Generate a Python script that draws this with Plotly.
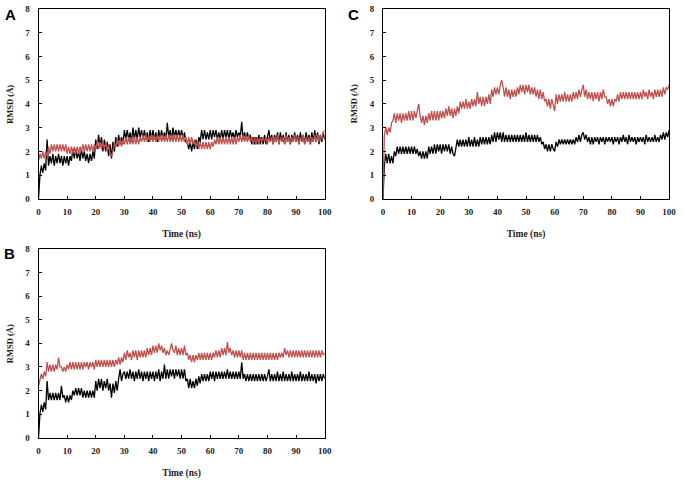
import plotly.graph_objects as go

# ---------------- data (RMSD in Å, read every 0.5 ns) ----------------
time_step_ns = 0.5
x_ticks = [0, 10, 20, 30, 40, 50, 60, 70, 80, 90, 100]
y_ticks = [0, 1, 2, 3, 4, 5, 6, 7, 8]

a_black = [
    0.0, 1.0, 1.4, 1.1, 1.5, 1.2, 2.5, 1.4, 1.8, 1.5, 1.9, 1.4, 1.8, 1.5, 1.9, 1.5, 1.8, 1.4, 1.8, 1.5,
    1.8, 1.4, 1.8, 1.6, 2.1, 1.7, 2.1, 1.7, 2.0, 1.6, 2.1, 1.7, 2.0, 1.6, 1.9, 1.5, 1.9, 1.6, 2.0, 1.7,
    2.5, 2.1, 2.7, 2.2, 2.6, 2.0, 2.5, 2.0, 2.4, 1.8, 2.3, 1.7, 2.4, 2.0, 2.6, 2.2, 2.7, 2.3, 2.6, 2.3,
    2.9, 2.5, 2.9, 2.5, 2.8, 2.4, 3.0, 2.5, 2.9, 2.5, 3.0, 2.6, 2.9, 2.5, 2.9, 2.5, 2.8, 2.4, 2.9, 2.5,
    2.9, 2.5, 2.8, 2.4, 2.9, 2.5, 2.9, 2.5, 2.8, 2.5, 3.2, 2.6, 2.9, 2.5, 3.0, 2.6, 2.9, 2.6, 2.9, 2.6,
    2.9, 2.5, 2.8, 2.4, 2.4, 2.1, 2.4, 2.0, 2.4, 2.1, 2.5, 2.1, 2.6, 2.4, 2.9, 2.5, 2.9, 2.5, 2.8, 2.5,
    2.9, 2.5, 2.9, 2.6, 2.9, 2.5, 2.8, 2.5, 2.9, 2.5, 2.9, 2.6, 2.9, 2.5, 2.9, 2.6, 2.8, 2.5, 2.9, 2.6,
    2.8, 2.6, 3.25, 2.5, 2.8, 2.5, 2.8, 2.5, 2.7, 2.3, 2.6, 2.3, 2.6, 2.3, 2.7, 2.3, 2.6, 2.3, 2.7, 2.3,
    2.6, 2.9, 2.4, 2.7, 2.3, 2.7, 2.4, 2.8, 2.3, 2.8, 2.4, 2.7, 2.3, 2.8, 2.4, 2.7, 2.3, 2.7, 2.4, 2.8,
    2.4, 2.7, 2.3, 2.8, 2.4, 2.7, 2.3, 2.8, 2.4, 2.7, 2.3, 2.8, 2.4, 2.9, 2.4, 2.8, 2.3, 2.7, 2.4, 2.8,
    2.5,
]
a_red = [
    1.6, 1.9, 1.7, 2.0, 1.7, 2.0, 1.8, 2.2, 1.9, 2.3, 2.0, 2.3, 2.0, 2.3, 2.0, 2.3, 2.0, 2.3, 2.0, 2.3,
    1.9, 2.2, 1.9, 2.2, 1.9, 2.2, 1.9, 2.2, 1.9, 2.2, 2.0, 2.3, 2.0, 2.3, 2.0, 2.3, 2.0, 2.3, 2.0, 2.3,
    2.1, 2.4, 2.1, 2.4, 2.1, 2.4, 2.1, 2.4, 2.0, 2.3, 1.9, 1.8, 2.0, 2.3, 2.2, 2.5, 2.2, 2.5, 2.2, 2.5,
    2.3, 2.6, 2.3, 2.6, 2.3, 2.6, 2.3, 2.6, 2.3, 2.6, 2.3, 2.6, 2.4, 2.7, 2.4, 2.7, 2.4, 2.7, 2.4, 2.7,
    2.4, 2.7, 2.4, 2.7, 2.4, 2.7, 2.4, 2.7, 2.4, 2.7, 2.4, 2.7, 2.4, 2.7, 2.4, 2.7, 2.4, 2.7, 2.4, 2.7,
    2.4, 2.7, 2.4, 2.6, 2.3, 2.6, 2.3, 2.6, 2.3, 2.5, 2.2, 2.4, 2.1, 2.4, 2.1, 2.4, 2.1, 2.4, 2.1, 2.4,
    2.1, 2.4, 2.2, 2.5, 2.3, 2.6, 2.3, 2.6, 2.3, 2.6, 2.3, 2.6, 2.3, 2.6, 2.3, 2.6, 2.3, 2.6, 2.3, 2.6,
    2.4, 2.7, 2.4, 2.7, 2.4, 2.7, 2.4, 2.7, 2.4, 2.6, 2.3, 2.6, 2.3, 2.6, 2.3, 2.6, 2.4, 2.6, 2.4, 2.6,
    2.3, 2.6, 2.4, 2.6, 2.3, 2.6, 2.4, 2.7, 2.3, 2.6, 2.4, 2.6, 2.3, 2.7, 2.4, 2.6, 2.3, 2.6, 2.4, 2.7,
    2.4, 2.6, 2.3, 2.6, 2.4, 2.7, 2.3, 2.6, 2.4, 2.6, 2.3, 2.6, 2.4, 2.7, 2.4, 2.7, 2.4, 2.7, 2.5, 2.8,
    2.9,
]
b_black = [
    0.0, 1.0, 1.4, 1.1, 1.5, 1.2, 2.4, 1.6, 1.9, 1.6, 1.9, 1.6, 1.9, 1.6, 1.9, 1.6, 2.2, 1.7, 1.8, 1.5,
    1.8, 1.5, 1.8, 1.6, 2.0, 1.8, 2.1, 1.8, 2.1, 1.8, 2.1, 1.7, 2.0, 1.7, 2.0, 1.7, 2.0, 1.7, 2.0, 1.7,
    2.4, 2.0, 2.5, 2.1, 2.5, 2.0, 2.4, 2.1, 2.5, 2.0, 2.3, 1.7, 2.3, 1.9, 2.4, 2.0, 2.5, 2.9, 2.4, 2.7,
    2.8, 2.5, 2.8, 2.5, 2.9, 2.5, 2.8, 2.4, 2.8, 2.5, 2.9, 2.5, 2.8, 2.4, 2.8, 2.5, 2.8, 2.4, 2.8, 2.5,
    2.8, 2.4, 2.8, 2.5, 2.9, 2.4, 2.8, 2.5, 3.1, 2.5, 2.9, 2.5, 2.9, 2.6, 2.9, 2.5, 2.9, 2.6, 2.9, 2.5,
    2.9, 2.5, 2.9, 2.4, 2.5, 2.1, 2.5, 2.1, 2.4, 2.1, 2.5, 2.2, 2.6, 2.3, 2.7, 2.4, 2.7, 2.4, 2.7, 2.4,
    2.8, 2.5, 2.8, 2.4, 2.8, 2.5, 2.8, 2.5, 2.8, 2.5, 2.8, 2.5, 2.9, 2.5, 2.8, 2.5, 2.8, 2.5, 2.8, 2.5,
    2.8, 2.5, 3.2, 2.5, 2.7, 2.4, 2.7, 2.4, 2.7, 2.4, 2.7, 2.4, 2.7, 2.4, 2.7, 2.4, 2.7, 2.4, 2.7, 2.4,
    2.6, 2.9, 2.4, 2.7, 2.4, 2.7, 2.4, 2.8, 2.4, 2.7, 2.4, 2.8, 2.4, 2.7, 2.4, 2.7, 2.4, 2.8, 2.4, 2.7,
    2.4, 2.7, 2.4, 2.8, 2.4, 2.7, 2.4, 2.7, 2.4, 2.8, 2.4, 2.7, 2.4, 2.7, 2.3, 2.7, 2.4, 2.7, 2.4, 2.7,
    2.5,
]
b_red = [
    2.2, 2.4, 2.7, 2.5, 2.8, 2.6, 3.2, 2.8, 3.1, 2.8, 3.1, 2.8, 3.1, 2.9, 3.4, 3.0, 3.0, 2.8, 3.0, 2.8,
    3.1, 2.9, 3.2, 2.9, 3.2, 2.9, 3.2, 2.9, 3.2, 2.9, 3.2, 2.9, 3.2, 3.0, 3.2, 2.9, 3.2, 3.0, 3.2, 2.9,
    3.3, 3.0, 3.3, 3.0, 3.3, 3.0, 3.3, 3.0, 3.3, 3.0, 3.3, 3.0, 3.3, 3.0, 3.3, 3.1, 3.4, 3.1, 3.4, 3.2,
    3.6, 3.3, 3.7, 3.4, 3.6, 3.3, 3.7, 3.4, 3.7, 3.3, 3.7, 3.4, 3.7, 3.4, 3.7, 3.4, 3.8, 3.5, 3.8, 3.5,
    3.9, 3.6, 3.9, 3.6, 4.0, 3.7, 3.9, 3.6, 3.8, 3.5, 3.7, 3.5, 3.8, 4.0, 3.7, 3.6, 3.9, 3.5, 3.8, 3.5,
    3.8, 3.5, 3.9, 3.5, 3.6, 3.3, 3.5, 3.2, 3.5, 3.2, 3.5, 3.3, 3.6, 3.3, 3.6, 3.3, 3.6, 3.3, 3.6, 3.3,
    3.6, 3.3, 3.6, 3.4, 3.7, 3.4, 3.7, 3.4, 3.8, 3.5, 3.8, 3.5, 4.05, 3.6, 3.8, 3.5, 3.7, 3.4, 3.7, 3.4,
    3.7, 3.4, 3.7, 3.3, 3.6, 3.3, 3.6, 3.3, 3.6, 3.3, 3.6, 3.3, 3.6, 3.3, 3.6, 3.3, 3.6, 3.3, 3.6, 3.3,
    3.6, 3.3, 3.6, 3.3, 3.6, 3.3, 3.6, 3.3, 3.6, 3.4, 3.6, 3.4, 3.8, 3.5, 3.7, 3.4, 3.7, 3.4, 3.7, 3.4,
    3.7, 3.4, 3.7, 3.4, 3.7, 3.4, 3.7, 3.4, 3.7, 3.4, 3.7, 3.4, 3.7, 3.4, 3.7, 3.4, 3.7, 3.4, 3.7, 3.5,
    3.6,
]
c_black = [
    0.0, 1.4, 1.9, 1.5, 1.9, 1.5, 1.8, 1.5, 2.0, 1.8, 2.2, 1.9, 2.2, 1.9, 2.2, 1.9, 2.2, 1.9, 2.2, 1.9,
    2.2, 1.9, 2.2, 1.9, 2.1, 1.8, 2.0, 1.7, 2.0, 1.7, 2.0, 1.7, 2.2, 1.9, 2.2, 1.9, 2.3, 1.9, 2.3, 2.0,
    2.3, 1.9, 2.3, 2.0, 2.3, 2.0, 2.3, 1.9, 2.2, 1.9, 1.8, 2.1, 2.5, 2.2, 2.5, 2.2, 2.5, 2.2, 2.5, 2.2,
    2.6, 2.2, 2.5, 2.2, 2.6, 2.2, 2.5, 2.2, 2.6, 2.3, 2.6, 2.3, 2.6, 2.3, 2.6, 2.3, 2.7, 2.4, 2.8, 2.4,
    2.8, 2.5, 2.8, 2.4, 2.8, 2.4, 2.7, 2.4, 2.7, 2.4, 2.7, 2.4, 2.7, 2.4, 2.7, 2.4, 2.7, 2.4, 2.7, 2.4,
    2.8, 2.4, 2.7, 2.4, 2.7, 2.4, 2.7, 2.4, 2.7, 2.4, 2.6, 2.3, 2.4, 2.1, 2.3, 2.0, 2.3, 2.0, 2.3, 2.1,
    2.0, 2.4, 2.2, 2.5, 2.3, 2.5, 2.3, 2.5, 2.3, 2.5, 2.3, 2.5, 2.3, 2.5, 2.3, 2.6, 2.4, 2.7, 2.4, 2.7,
    2.8, 2.5, 2.7, 2.4, 2.6, 2.3, 2.6, 2.3, 2.6, 2.4, 2.6, 2.3, 2.6, 2.4, 2.6, 2.3, 2.6, 2.4, 2.6, 2.4,
    2.6, 2.3, 2.6, 2.4, 2.6, 2.3, 2.6, 2.4, 2.7, 2.4, 2.6, 2.3, 2.7, 2.4, 2.6, 2.4, 2.6, 2.3, 2.6, 2.4,
    2.6, 2.4, 2.6, 2.3, 2.7, 2.4, 2.6, 2.4, 2.6, 2.4, 2.7, 2.4, 2.6, 2.4, 2.7, 2.5, 2.8, 2.5, 2.8, 2.6,
    2.9,
]
c_red = [
    0.0, 2.7, 3.0, 2.7, 3.0, 2.8, 3.2, 3.3, 3.6, 3.2, 3.6, 3.3, 3.6, 3.2, 3.6, 3.3, 3.6, 3.3, 3.7, 3.3,
    3.7, 3.3, 3.7, 3.4, 3.7, 4.0, 3.5, 3.2, 3.5, 3.1, 3.5, 3.2, 3.6, 3.3, 3.7, 3.3, 3.7, 3.3, 3.7, 3.3,
    3.7, 3.4, 3.7, 3.4, 3.8, 3.5, 3.9, 3.5, 3.8, 3.4, 3.8, 3.5, 3.9, 3.6, 4.1, 3.8, 4.1, 3.8, 4.2, 3.8,
    4.1, 3.8, 4.2, 3.9, 4.2, 3.9, 4.5, 4.0, 4.3, 3.9, 4.3, 3.9, 4.3, 4.0, 4.4, 4.0, 4.6, 4.3, 4.7, 4.4,
    4.7, 4.4, 4.8, 5.0, 4.7, 4.3, 4.7, 4.3, 4.6, 4.2, 4.6, 4.3, 4.6, 4.3, 4.7, 4.4, 4.8, 4.5, 4.8, 4.4,
    4.8, 4.5, 4.8, 4.4, 4.7, 4.4, 4.7, 4.3, 4.6, 4.2, 4.6, 4.2, 4.5, 4.1, 4.2, 3.9, 4.2, 3.8, 4.2, 3.9,
    3.7, 4.4, 4.0, 4.4, 4.1, 4.4, 4.1, 4.5, 4.1, 4.4, 4.1, 4.4, 4.1, 4.5, 4.2, 4.5, 4.2, 4.6, 4.3, 4.6,
    4.8, 4.3, 4.6, 4.2, 4.5, 4.2, 4.5, 4.1, 4.5, 4.2, 4.5, 4.1, 4.5, 4.2, 4.6, 4.3, 4.3, 4.0, 4.2, 3.9,
    4.2, 3.9, 4.2, 4.1, 4.4, 4.1, 4.5, 4.2, 4.5, 4.2, 4.5, 4.2, 4.5, 4.2, 4.5, 4.2, 4.5, 4.2, 4.5, 4.2,
    4.5, 4.2, 4.6, 4.3, 4.5, 4.2, 4.6, 4.3, 4.5, 4.2, 4.6, 4.3, 4.6, 4.3, 4.6, 4.3, 4.7, 4.4, 4.7, 4.6,
    4.8,
]

panel_labels = ["A", "B", "C"]
x_title = "Time (ns)"
y_title = "RMSD (Å)"

# ---------------- styling ----------------
W, H = 685, 481
BLACK = "#000000"
RED = "#C0504D"
SERIF = "Liberation Serif, Times New Roman, serif"


def times(series):
    return [i * time_step_ns for i in range(len(series))]


# pixel boxes (left, right, top, bottom) for each panel
boxes = {
    "A": (37, 327, 4, 198),
    "B": (37, 327, 249, 442),
    "C": (386, 676, 4, 198),
}

fig = go.Figure()
panels = [("A", a_black, a_red, ""), ("B", b_black, b_red, "2"), ("C", c_black, c_red, "3")]
for name, blk, red, sfx in panels:
    fig.add_trace(go.Scatter(x=times(blk), y=blk, mode="lines",
                             line=dict(color=BLACK, width=1.3), xaxis="x" + sfx, yaxis="y" + sfx,
                             showlegend=False, hoverinfo="skip"))
    fig.add_trace(go.Scatter(x=times(red), y=red, mode="lines",
                             line=dict(color=RED, width=1.3), xaxis="x" + sfx, yaxis="y" + sfx,
                             showlegend=False, hoverinfo="skip"))

tickfont = dict(family=SERIF, size=9, color="#222222", weight="bold")
titlefont = dict(family=SERIF, size=9.5, color="#222222", weight="bold")

layout = dict(
    width=W, height=H,
    margin=dict(l=0, r=0, t=0, b=0),
    paper_bgcolor="white", plot_bgcolor="white",
    showlegend=False,
)
annotations = []
for name, blk, red, sfx in panels:
    l, r, t, b = boxes[name]
    layout["xaxis" + sfx] = dict(
        domain=[l / W, r / W], range=[0, 100], anchor="y" + sfx,
        tickmode="array", tickvals=x_ticks, ticktext=[str(v) for v in x_ticks],
        ticks="inside", ticklen=3, tickcolor=BLACK, tickwidth=1,
        showline=True, mirror=True, linecolor=BLACK, linewidth=1,
        showgrid=False, zeroline=False, tickfont=tickfont, ticklabelstandoff=4,
        title=dict(text=x_title, font=titlefont, standoff=14),
    )
    layout["yaxis" + sfx] = dict(
        domain=[1 - b / H, 1 - t / H], range=[0, 8], anchor="x" + sfx,
        tickmode="array", tickvals=y_ticks, ticktext=[str(v) for v in y_ticks],
        ticks="inside", ticklen=3, tickcolor=BLACK, tickwidth=1,
        showline=True, mirror=True, linecolor=BLACK, linewidth=1,
        showgrid=False, zeroline=False, tickfont=tickfont, ticklabelstandoff=6,
    )
    # y-axis title, rotated, placed left of the tick labels
    annotations.append(dict(text=y_title, textangle=-90,
                            x=(l - 29) / W, y=1 - ((t + b) / 2) / H,
                            xref="paper", yref="paper", xanchor="center", yanchor="middle",
                            showarrow=False,
                            font=dict(family=SERIF, size=8.5, color="#222222", weight="bold")))

label_pos = {"A": (9, 10), "B": (8, 254), "C": (356, 10)}
for name in panel_labels:
    px, py = label_pos[name]
    annotations.append(dict(text=name, x=px / W, y=1 - py / H, xref="paper", yref="paper",
                            xanchor="center", yanchor="middle", showarrow=False,
                            font=dict(family="Liberation Sans, Arial, sans-serif", size=15,
                                      color=BLACK, weight="bold")))
layout["annotations"] = annotations
fig.update_layout(**layout)

fig.write_html("out.html", config={"displayModeBar": False},
               post_script="document.body.style.margin='0px';")
